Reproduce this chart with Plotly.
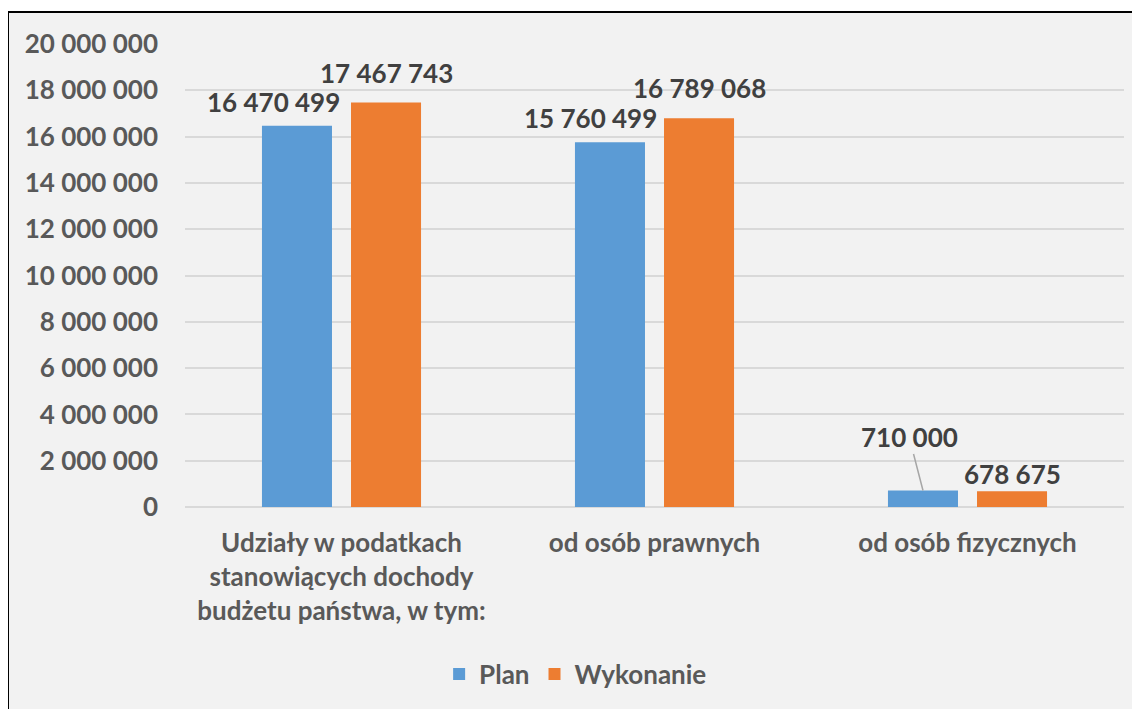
import plotly.graph_objects as go

# dane
kategorie = ['Udziały w podatkach<br>stanowiących dochody<br>budżetu państwa, w tym:',
             'od osób prawnych',
             'od osób fizycznych']
plan = [16470499, 15760499, 710000]
wykonanie = [17467743, 16789068, 678675]
y_ticks = list(range(0, 20000001, 2000000))

def fmt(v):
    return f'{v:,}'.replace(',', ' ')

FONT = 'Lato'
SIZE = 26
bold = lambda c: dict(family=FONT, size=SIZE, color=c, weight='bold')

fig = go.Figure()
fig.add_trace(go.Bar(x=kategorie, y=plan, name='Plan', marker_color='#5b9bd5',
                     marker_line_width=0))
fig.add_trace(go.Bar(x=kategorie, y=wykonanie, name='Wykonanie', marker_color='#ed7d31',
                     marker_line_width=0))

# etykiety danych
ann = []
plan_dx = [-24, -20, 0]
wyk_dy = [12, 12, -1]
for i, (k, v) in enumerate(zip(kategorie, plan)):
    if i == 2:
        ann.append(dict(x=k, y=v, xref='x', yref='y', text=fmt(v), xshift=-44.5,
                        showarrow=True, arrowhead=0, arrowwidth=1.5, arrowcolor='#a6a6a6',
                        ax=-14, ay=-54))
    else:
        ann.append(dict(x=k, y=v, xref='x', yref='y', text=fmt(v), showarrow=False,
                        xshift=-44.5 + plan_dx[i], yanchor='bottom', yshift=6))
for i, (k, v) in enumerate(zip(kategorie, wykonanie)):
    ann.append(dict(x=k, y=v, xref='x', yref='y', text=fmt(v), showarrow=False,
                    xshift=44.5, yanchor='bottom', yshift=wyk_dy[i]))
for a in ann:
    a['font'] = bold('#404040')

fig.update_layout(
    width=1140, height=709,
    margin=dict(l=177, r=24, t=36, b=210),
    paper_bgcolor='white', plot_bgcolor='rgba(0,0,0,0)',
    barmode='group', bargap=0.431, bargroupgap=0.2135,
    font=bold('#595959'),
    annotations=ann,
    showlegend=True,
    legend=dict(orientation='h', x=0.416, xanchor='center', y=-0.31, yanchor='top',
                bgcolor='rgba(0,0,0,0)', font=bold('#595959'),
                itemwidth=30, tracegroupgap=0),
    shapes=[dict(type='rect', xref='paper', yref='paper', layer='below',
                 x0=-0.1885, x1=1.1, y0=-0.6, y1=1.0691,
                 fillcolor='#f2f2f2', line=dict(color='black', width=2))],
)
fig.update_yaxes(range=[0, 20000000], tickvals=y_ticks, ticktext=[fmt(t) for t in y_ticks],
                 tickfont=bold('#595959'),
                 showgrid=True, gridcolor='#d9d9d9', gridwidth=1.5,
                 zeroline=True, zerolinecolor='#d9d9d9', zerolinewidth=1.5,
                 showline=False, ticks='', ticklabelstandoff=26)
fig.update_xaxes(tickfont=bold('#595959'), showline=False, ticks='', ticklabelstandoff=18)

fig.write_html('out.html')
